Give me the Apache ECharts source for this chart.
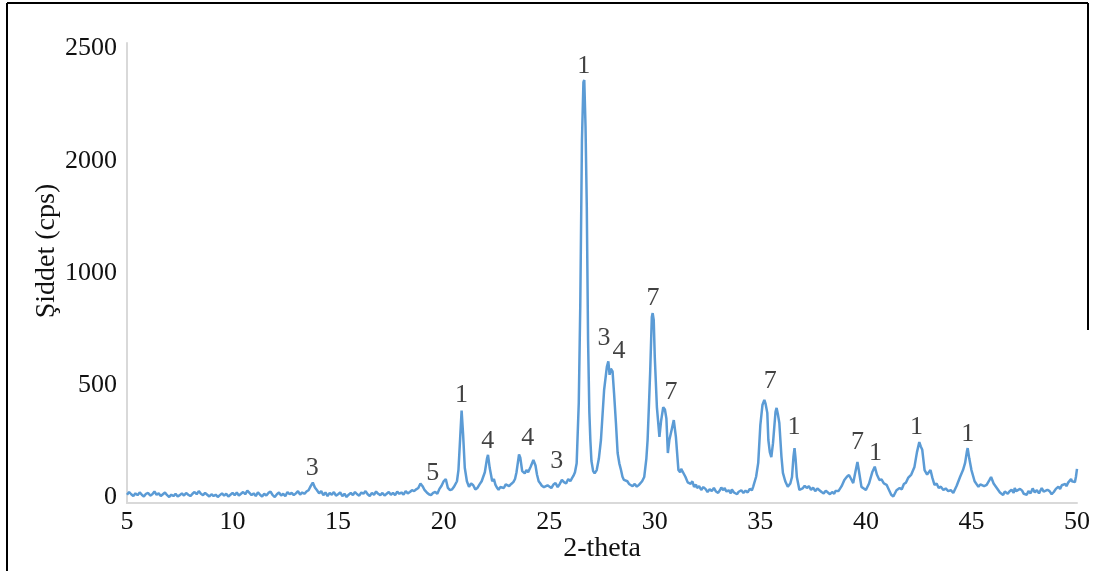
<!DOCTYPE html>
<html>
<head>
<meta charset="utf-8">
<title>XRD</title>
<script src="https://cdn.jsdelivr.net/npm/echarts@6/dist/echarts.min.js"></script>
<style>
	html, body { margin: 0; padding: 0; background: #fff; }
	#line { width: 1093px; height: 571px; }
</style>
</head>
<body>
<div id="line"></div>
<script>
	//values, split in four ranges of 2-theta
	//intensity is in plot units: one label step = 500
	//5 - 18.7
	var thetaLow = [
		5.0, 5.1, 5.2, 5.3, 5.4, 5.5, 5.6, 5.7, 5.8, 5.9,
		6.0, 6.1, 6.2, 6.3, 6.4, 6.5, 6.6, 6.7, 6.8, 6.9,
		7.0, 7.1, 7.2, 7.3, 7.4, 7.5, 7.6, 7.7, 7.8, 7.9,
		8.0, 8.1, 8.2, 8.3, 8.4, 8.5, 8.6, 8.7, 8.8, 8.9,
		9.0, 9.1, 9.2, 9.3, 9.4, 9.5, 9.6, 9.7, 9.8, 9.9,
		10.0, 10.1, 10.2, 10.3, 10.4, 10.5, 10.6, 10.7, 10.8, 10.9,
		11.0, 11.1, 11.2, 11.3, 11.4, 11.5, 11.6, 11.7, 11.8, 11.9,
		12.0, 12.1, 12.2, 12.3, 12.4, 12.5, 12.6, 12.7, 12.8, 12.9,
		13.0, 13.1, 13.2, 13.3, 13.4, 13.5, 13.6, 13.7, 13.8, 13.9,
		14.0, 14.1, 14.2, 14.3, 14.4, 14.5, 14.6, 14.7, 14.8, 14.9,
		15.0, 15.1, 15.2, 15.3, 15.4, 15.5, 15.6, 15.7, 15.8, 15.9,
		16.0, 16.1, 16.2, 16.3, 16.4, 16.5, 16.6, 16.7, 16.8, 16.9,
		17.0, 17.1, 17.2, 17.3, 17.4, 17.5, 17.6, 17.7, 17.8, 17.9,
		18.0, 18.1, 18.2, 18.3, 18.4, 18.5, 18.6, 18.7
	];
	var intLow = [
		10, 22, 12, 4, 16, 8, 20, 10, 2, 14,
		18, 6, 12, 24, 10, 16, 4, 12, 20, 8,
		0, 10, 4, 14, 2, 8, 16, 6, 18, 10,
		4, 14, 22, 12, 26, 14, 8, 18, 10, 2,
		12, 4, 10, 0, 8, 16, 6, 14, 2, 10,
		18, 8, 20, 6, 14, 22, 12, 28, 18, 8,
		16, 4, 20, 10, 2, 14, 6, 18, 24, 8,
		0, 12, 20, 6, 14, 4, 22, 12, 18, 8,
		16, 26, 10, 20, 14, 24, 30, 48, 64, 42,
		30, 16, 26, 8, 20, 4, 18, 10, 22, 6,
		12, 20, 4, 14, 0, 10, 18, 8, 22, 12,
		6, 20, 14, 26, 12, 4, 18, 10, 24, 14,
		8, 18, 6, 14, 22, 10, 18, 8, 24, 14,
		20, 10, 26, 16, 22, 30, 26, 34
	];
	//18.8 - 31.45
	var thetaMain = [
		18.8, 18.9, 19.0, 19.1, 19.2, 19.3, 19.4, 19.5, 19.6, 19.7,
		19.8, 19.9, 20.0, 20.1, 20.2, 20.3, 20.4, 20.48, 20.55, 20.63,
		20.7, 20.78, 20.85, 20.92, 21.0, 21.1, 21.2, 21.3, 21.4, 21.5,
		21.6, 21.7, 21.8, 21.95, 22.05, 22.1, 22.18, 22.3, 22.38, 22.45,
		22.52, 22.6, 22.68, 22.75, 22.85, 22.94, 23.02, 23.1, 23.2, 23.3,
		23.38, 23.45, 23.57, 23.63, 23.72, 23.84, 23.92, 24.0, 24.12, 24.25,
		24.35, 24.42, 24.5, 24.58, 24.65, 24.75, 24.84, 24.92, 25.0, 25.1,
		25.2, 25.3, 25.4, 25.5, 25.6, 25.7, 25.8, 25.9, 26.0, 26.08,
		26.15, 26.22, 26.3, 26.4, 26.47, 26.55, 26.62, 26.66, 26.72, 26.78,
		26.84, 26.9, 26.95, 27.0, 27.08, 27.15, 27.25, 27.35, 27.45, 27.6,
		27.73, 27.8, 27.86, 27.92, 28.0, 28.07, 28.16, 28.24, 28.32, 28.4,
		28.47, 28.54, 28.62, 28.7, 28.78, 28.87, 28.95, 29.05, 29.15, 29.25,
		29.32, 29.4, 29.5, 29.6, 29.66, 29.72, 29.78, 29.86, 29.9, 29.95,
		30.0, 30.1, 30.22, 30.3, 30.4, 30.48, 30.55, 30.62, 30.69, 30.8,
		30.9, 31.0, 31.12, 31.2, 31.25, 31.33, 31.45
	];
	var intMain = [
		40, 60, 48, 30, 20, 12, 8, 18, 22, 14,
		36, 50, 70, 80, 40, 30, 34, 44, 50, 70,
		120, 260, 385, 280, 130, 70, 45, 60, 52, 34,
		40, 56, 70, 110, 170, 188, 130, 70, 80, 55,
		42, 32, 44, 50, 40, 56, 62, 48, 58, 66,
		80, 110, 190, 175, 115, 105, 120, 110, 135, 165,
		140, 100, 70, 60, 50, 44, 38, 52, 48, 40,
		55, 62, 44, 58, 76, 66, 60, 80, 70, 84,
		95, 110, 150, 420, 850, 1590, 1850, 1860, 1650, 1290,
		700, 380, 250, 160, 115, 105, 120, 170, 254, 477,
		580, 605, 545, 572, 560, 464, 330, 196, 150, 120,
		90, 76, 84, 70, 58, 62, 48, 58, 46, 54,
		62, 70, 89, 170, 254, 400, 553, 803, 820, 790,
		624, 401, 268, 340, 400, 390, 350, 196, 254, 300,
		343, 268, 120, 110, 125, 118, 90
	];
	//31.56 - 36.9
	var thetaMid = [
		31.56, 31.7, 31.78, 31.86, 31.95, 32.0, 32.1, 32.2, 32.3, 32.4,
		32.5, 32.6, 32.7, 32.8, 32.9, 33.0, 33.1, 33.15, 33.25, 33.3,
		33.4, 33.5, 33.6, 33.65, 33.75, 33.8, 33.9, 33.96, 34.05, 34.1,
		34.2, 34.3, 34.4, 34.5, 34.6, 34.66, 34.8, 34.9, 35.0, 35.1,
		35.19, 35.25, 35.33, 35.38, 35.45, 35.52, 35.6, 35.65, 35.72, 35.77,
		35.83, 35.9, 36.0, 36.07, 36.18, 36.3, 36.42, 36.5, 36.57, 36.62,
		36.67, 36.73, 36.85
	];
	var intMid = [
		65, 58, 70, 45, 55, 40, 48, 31, 44, 36,
		22, 34, 26, 40, 24, 18, 32, 42, 30, 40,
		24, 30, 16, 34, 20, 28, 12, 22, 14, 30,
		18, 28, 20, 36, 30, 45, 90, 152, 320, 410,
		433, 415, 375, 254, 200, 178, 240, 299, 380, 397,
		370, 330, 180, 107, 70, 45, 60, 89, 180, 218,
		170, 89, 31
	];
	//37 - 50
	var thetaHigh = [
		37.0, 37.1, 37.2, 37.3, 37.4, 37.5, 37.6, 37.7, 37.8, 37.9,
		38.0, 38.1, 38.2, 38.3, 38.4, 38.5, 38.55, 38.62, 38.7, 38.78,
		38.85, 38.98, 39.1, 39.2, 39.3, 39.4, 39.5, 39.6, 39.68, 39.79,
		39.9, 40.0, 40.15, 40.3, 40.42, 40.52, 40.64, 40.74, 40.85, 40.98,
		41.1, 41.2, 41.3, 41.45, 41.6, 41.7, 41.8, 41.9, 42.0, 42.15,
		42.3, 42.42, 42.53, 42.6, 42.67, 42.78, 42.9, 43.06, 43.15, 43.25,
		43.35, 43.45, 43.55, 43.67, 43.78, 43.9, 44.02, 44.14, 44.3, 44.46,
		44.6, 44.7, 44.78, 44.82, 44.9, 45.0, 45.15, 45.33, 45.42, 45.5,
		45.6, 45.72, 45.85, 45.93, 46.05, 46.2, 46.35, 46.5, 46.58, 46.65,
		46.72, 46.8, 46.9, 47.0, 47.05, 47.12, 47.2, 47.3, 47.4, 47.48,
		47.55, 47.62, 47.7, 47.8, 47.9, 48.0, 48.1, 48.2, 48.33, 48.42,
		48.5, 48.6, 48.7, 48.8, 48.9, 49.0, 49.05, 49.12, 49.2, 49.28,
		49.36, 49.45, 49.5, 49.58, 49.65, 49.72, 49.76, 49.85, 49.9, 49.95,
		50.0
	];
	var intHigh = [
		38, 50, 40, 48, 32, 42, 26, 38, 30, 22,
		16, 28, 20, 12, 22, 14, 26, 18, 26, 34,
		48, 76, 90, 98, 80, 62, 110, 156, 110, 45,
		38, 31, 60, 110, 135, 100, 76, 78, 60, 54,
		30, 10, 2, 30, 40, 34, 58, 64, 85, 100,
		134, 200, 245, 225, 210, 120, 100, 120, 85, 54,
		60, 40, 46, 31, 38, 26, 30, 18, 50, 89,
		120, 152, 200, 218, 170, 120, 70, 45, 56, 58,
		48, 54, 75, 89, 60, 40, 20, 9, 24, 30,
		14, 24, 32, 18, 40, 26, 20, 36, 28, 14,
		22, 10, 26, 16, 38, 20, 30, 16, 40, 24,
		18, 32, 26, 12, 22, 36, 30, 46, 36, 52,
		44, 58, 48, 64, 56, 80, 70, 78, 66, 90,
		125
	];
	//peak phase numbers and where they sit
	var peakText = ['3', '5', '1', '4', '4', '3', '1', '3', '4', '7', '7', '7', '1', '7', '1', '1', '1'];
	var peakX = [13.78, 19.48, 20.85, 22.09, 23.98, 25.36, 26.64, 27.6, 28.3, 29.92, 30.77, 35.47, 36.6, 39.6, 40.45, 42.4, 44.82];
	var peakY = [129, 107, 455, 250, 263, 161, 1922, 709, 651, 888, 468, 517, 312, 245, 196, 312, 281];
	//y tick positions and the text printed at them in the picture
	var yTickValues = [0, 500, 1000, 1500, 2000];
	var yTickLabels = ['0', '500', '1000', '2000', '2500'];

	var FONT = 'Liberation Serif';
	var TXT = '#111';

	var twoTheta = thetaLow.concat(thetaMain, thetaMid, thetaHigh);
	var intensity = intLow.concat(intMain, intMid, intHigh);
	var lineData = [], peakData = [];
	for (var i = 0; i < twoTheta.length; i++) {
		lineData.push([twoTheta[i], intensity[i]]);
	}
	for (var j = 0; j < peakText.length; j++) {
		peakData.push({ value: [peakX[j], peakY[j]], name: peakText[j] });
	}

	var config = {
		animation: false,
		backgroundColor: '#fff',
		grid: {
			left: 127, right: 16, top: 43, bottom: 68,
			containLabel: false,
			outerBoundsMode: 'none'
		},
		xAxis: {
			type: 'value', min: 5, max: 50, interval: 5,
			name: '2-theta', nameLocation: 'middle', nameGap: 32,
			nameMoveOverlap: false,
			nameTextStyle: { fontFamily: FONT, fontSize: 28, color: TXT },
			axisLine: { onZero: false, lineStyle: { color: '#d9d9d9', width: 2 } },
			axisTick: { show: false },
			splitLine: { show: false },
			axisLabel: { fontFamily: FONT, fontSize: 26, color: TXT, margin: 6 }
		},
		yAxis: {
			type: 'value', min: -27, max: 2025,
			name: 'Şiddet (cps)', nameLocation: 'middle', nameGap: 66, nameRotate: 90,
			nameMoveOverlap: false,
			//padding pushes the title up along the axis
			nameTextStyle: { fontFamily: FONT, fontSize: 28, color: TXT, padding: [0, 0, 0, 44] },
			axisLine: { show: true, lineStyle: { color: '#d9d9d9', width: 2 } },
			axisTick: { show: false },
			splitLine: { show: false },
			axisLabel: {
				fontFamily: FONT, fontSize: 26, color: TXT, margin: 10,
				customValues: yTickValues,
				formatter: function (v) {
					var k = yTickValues.indexOf(v);
					return k >= 0 ? yTickLabels[k] : '';
				}
			}
		},
		series: [
			{
				type: 'line', data: lineData,
				showSymbol: false, smooth: false,
				lineStyle: { color: '#5b9bd5', width: 2.5 }
			}, {
				type: 'scatter', data: peakData,
				symbolSize: 0,
				label: {
					show: true, position: 'inside',
					formatter: '{b}',
					fontFamily: FONT, fontSize: 26, color: TXT
				}
			}
		],
		//frame round the figure
		graphic: [
			{ type: 'line', shape: { x1: 7, y1: 3, x2: 7, y2: 571 }, style: { stroke: '#000', lineWidth: 2 } },
			{ type: 'line', shape: { x1: 7, y1: 3, x2: 1088, y2: 3 }, style: { stroke: '#000', lineWidth: 2 } },
			{ type: 'line', shape: { x1: 1088, y1: 3, x2: 1088, y2: 330 }, style: { stroke: '#000', lineWidth: 2 } }
		]
	};
	var myChart = echarts.init(document.getElementById('line'));
	myChart.setOption(config);
</script>
</body>
</html>
